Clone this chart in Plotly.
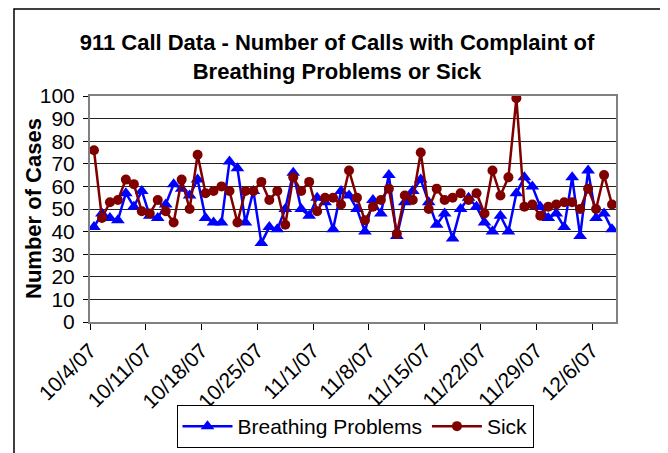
import datetime as dt
import plotly.graph_objects as go

start = dt.date(2007, 10, 4)
n_days = 66
dates = [dt.datetime.combine(start + dt.timedelta(days=i), dt.time(12, 0)) for i in range(n_days)]

breathing = [42, 48, 46, 45, 57, 51, 58, 47, 46, 52, 61, 59, 56, 63, 46, 44, 44, 71, 68, 44,
             58, 35, 42, 41, 50, 66, 50, 47, 55, 53, 41, 58, 56, 50, 40, 54, 48, 65, 38, 53,
             58, 63, 53, 43, 48, 37, 50, 55, 51, 44, 40, 47, 40, 57, 64, 60, 51, 46, 48, 42,
             64, 38, 67, 46, 48, 41]
sick = [76, 46, 53, 54, 63, 61, 49, 48, 54, 49, 44, 63, 50, 74, 57, 58, 60, 58, 44, 58,
        58, 62, 54, 58, 43, 64, 58, 62, 49, 55, 55, 52, 67, 55, 45, 51, 54, 59, 39, 56,
        54, 75, 50, 59, 54, 55, 57, 54, 57, 48, 67, 56, 64, 99, 51, 52, 47, 51, 52, 53,
        53, 50, 59, 50, 65, 52]

tick_dates = [dt.datetime.combine(start + dt.timedelta(days=7 * k), dt.time(0, 0)) for k in range(10)]
tick_labels = ["10/4/07", "10/11/07", "10/18/07", "10/25/07", "11/1/07", "11/8/07",
               "11/15/07", "11/22/07", "11/29/07", "12/6/07"]

FONT = "Liberation Sans, Arial, sans-serif"
OFF = 8  # page body margin offset
W, H = 668, 453
L, R, T, B = 90 - OFF, W - (616 - OFF), 96 - OFF, H - (322 - OFF)
PW, PH = W - L - R, H - T - B

fig = go.Figure()
fig.add_trace(go.Scatter(
    x=dates, y=breathing, name="Breathing Problems", mode="lines+markers",
    line=dict(color="#0000FF", width=2.5),
    marker=dict(symbol="triangle-up", size=12, color="#0000FF"),
))
fig.add_trace(go.Scatter(
    x=dates, y=sick, name="Sick", mode="lines+markers",
    line=dict(color="#800000", width=2.5),
    marker=dict(symbol="circle", size=10, color="#800000"),
))

fig.update_layout(
    width=W, height=H,
    margin=dict(l=L, r=R, t=T, b=B, autoexpand=False),
    paper_bgcolor="white", plot_bgcolor="white",
    font=dict(family=FONT, size=21, color="black"),
    title=dict(
        text="<b>911 Call Data - Number of Calls with Complaint of<br>Breathing Problems or Sick</b>",
        x=(337 - OFF) / W, xanchor="center", xref="container",
        y=1 - (50 - OFF) / H, yanchor="middle", yref="container",
        font=dict(family=FONT, size=22, color="black"),
    ),
    showlegend=True,
    legend=dict(
        orientation="h", x=(355 - 90) / PW, xanchor="center",
        y=-(448 - 322) / PH, yanchor="bottom",
        bordercolor="black", borderwidth=1, bgcolor="white",
        font=dict(family=FONT, size=21, color="black"),
        itemwidth=50, tracegroupgap=0,
    ),
    annotations=[dict(
        text="<b>Number of Cases</b>", textangle=-90,
        xref="paper", yref="paper",
        x=(33 - 90) / PW, y=(322 - 209) / PH,
        xanchor="center", yanchor="middle", showarrow=False,
        font=dict(family=FONT, size=22, color="black"),
    )],
    shapes=[dict(type="rect", xref="paper", yref="paper",
                 x0=-(90 - 14) / PW, x1=(661 - 90) / PW,
                 y0=-(460 - 322) / PH, y1=(322 - 9) / PH,
                 line=dict(color="black", width=1.5), layer="below")],
)

fig.update_xaxes(
    type="date", automargin=False,
    range=[tick_dates[0], dt.datetime(2007, 12, 9)],
    tickvals=tick_dates, ticktext=tick_labels, tickangle=-45,
    showgrid=False, showline=True, linecolor="#808080", linewidth=2, mirror=True,
    ticks="outside", ticklen=6, tickcolor="black",
    tickfont=dict(family=FONT, size=21, color="black"),
)
fig.update_yaxes(
    range=[0, 100], dtick=10, automargin=False,
    showgrid=True, gridcolor="#222222", gridwidth=1,
    showline=True, linecolor="#808080", linewidth=2, mirror=True,
    ticks="outside", ticklen=5, tickcolor="black", ticklabelstandoff=4,
    tickfont=dict(family=FONT, size=21, color="black"),
    zeroline=False,
)

fig.write_html("out.html")
